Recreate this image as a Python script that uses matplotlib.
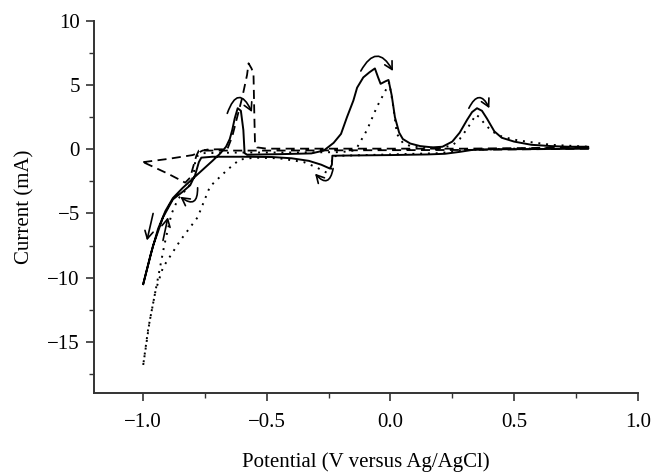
import matplotlib
matplotlib.use("Agg")
import matplotlib.pyplot as plt
from matplotlib.ticker import MultipleLocator

# solid trace: anodic sweep (-1.0 -> 0.8) then cathodic sweep back
solid_x = [-1.00, -0.97, -0.94, -0.91, -0.88, -0.84, -0.80, -0.76, -0.72, -0.69,
           -0.665, -0.65, -0.64, -0.63, -0.618, -0.605, -0.595, -0.59, -0.58,
           -0.45, -0.32, -0.27, -0.23, -0.20, -0.176, -0.15, -0.135, -0.11, -0.085,
           -0.063, -0.05, -0.04, -0.02, -0.008, 0.005, 0.018, 0.035, 0.05, 0.08,
           0.12, 0.17, 0.21, 0.25, 0.28, 0.31, 0.33, 0.35, 0.37, 0.39, 0.42, 0.45,
           0.50, 0.57, 0.65, 0.72, 0.80,
           0.80, 0.60, 0.40, 0.33, 0.28, 0.22, 0.15, 0.00, -0.15, -0.235, -0.237,
           -0.245, -0.28, -0.33, -0.40, -0.48, -0.60, -0.72, -0.765, -0.775,
           -0.79, -0.81, -0.84, -0.88, -0.92, -0.96, -1.00]
solid_y = [-10.5, -8.2, -6.2, -4.8, -3.8, -3.0, -2.3, -1.6, -0.9, -0.35,
           0.2, 0.8, 1.5, 2.4, 3.2, 3.0, 1.5, -0.3, -0.42,
           -0.38, -0.32, -0.1, 0.5, 1.2, 2.5, 3.8, 4.8, 5.6, 6.0,
           6.3, 5.6, 5.1, 5.3, 5.4, 4.2, 2.5, 1.3, 0.8, 0.45,
           0.25, 0.15, 0.2, 0.6, 1.3, 2.3, 2.9, 3.2, 3.0, 2.4, 1.4, 0.9,
           0.6, 0.35, 0.25, 0.2, 0.2,
           0.05, 0.02, 0.0, -0.05, -0.2, -0.35, -0.4, -0.45, -0.48, -0.5, -1.2,
           -1.5, -1.2, -0.9, -0.7, -0.6, -0.58, -0.58, -0.65, -1.0,
           -2.0, -2.8, -3.3, -3.9, -5.3, -7.5, -10.5]

# dotted trace
dotted_x = [-1.00, -0.99, -0.975, -0.96, -0.945, -0.93, -0.915, -0.90, -0.885,
            -0.86, -0.83, -0.805, -0.795, -0.79, -0.78, -0.76, -0.60, -0.40,
            -0.20, -0.15, -0.135, -0.095, -0.055, -0.014, -0.005, 0.01, 0.026,
            0.05, 0.08, 0.12, 0.20, 0.25, 0.28, 0.31, 0.33, 0.345, 0.36, 0.38,
            0.41, 0.45, 0.50, 0.55, 0.65, 0.80,
            0.80, 0.50, 0.30, 0.20, 0.00, -0.20, -0.235, -0.24, -0.255, -0.30,
            -0.35, -0.45, -0.55, -0.61, -0.66, -0.73, -0.78, -0.85, -0.92,
            -0.95, -0.98, -1.00]
dotted_y = [-16.8, -15.5, -13.5, -12.0, -10.5, -9.0, -7.5, -6.2, -5.0,
            -3.9, -3.2, -2.6, -1.8, -1.0, -0.5, -0.3, -0.25, -0.25,
            -0.22, -0.1, 0.15, 1.5, 3.3, 4.8, 5.2, 3.5, 1.2,
            0.5, 0.25, 0.15, 0.1, 0.3, 0.8, 1.6, 2.2, 2.7, 2.5, 2.0,
            1.4, 1.0, 0.75, 0.6, 0.35, 0.2,
            0.1, 0.05, -0.05, -0.3, -0.4, -0.5, -0.55, -1.5, -1.85, -1.4,
            -1.0, -0.7, -0.65, -0.8, -1.6, -2.9, -5.3, -7.1, -9.2,
            -11.0, -14.0, -16.8]

# dashed trace
dashed_x = [-1.00, -0.90, -0.80, -0.775, -0.76, -0.74, -0.70, -0.66, -0.64,
            -0.62, -0.60, -0.58, -0.574, -0.562, -0.554, -0.551, -0.548, -0.54,
            -0.50, 0.00, 0.30, 0.80,
            0.80, 0.30, -0.50, -0.775, -0.785, -0.80, -0.81, -0.83, -0.90, -1.00]
dashed_y = [-1.0, -0.75, -0.45, -0.25, -0.1, -0.02, 0.0, 0.0, 1.0,
            2.5, 4.0, 5.8, 6.7, 6.3, 5.9, 3.0, 0.5, 0.15,
            0.05, 0.05, 0.05, 0.15,
            0.05, -0.05, -0.1, -0.1, -0.5, -1.5, -2.2, -2.6, -1.9, -1.0]

# sweep-direction arrows: (start, end, curvature)
arrows = [
    ((-0.66, 2.8), (-0.56, 2.9), -1.2),
    ((-0.12, 6.1), (0.01, 6.1), -0.9),
    ((0.317, 3.2), (0.40, 3.2), -1.0),
    ((-0.232, -1.5), (-0.305, -1.9), -1.0),
    ((-0.78, -3.0), (-0.85, -3.7), -1.0),
    ((-0.96, -5.0), (-0.985, -7.1), 0.0),
    ((-0.92, -7.1), (-0.90, -5.3), 0.0),
]

plt.rcParams['font.family'] = ['Liberation Serif', 'DejaVu Serif']

fig = plt.figure(figsize=(6.65, 4.76), dpi=100)
ax = fig.add_axes([0.141, 0.174, 0.818, 0.782])

ax.plot(solid_x, solid_y, color='black', lw=1.4, solid_joinstyle='round')
ax.plot(dotted_x, dotted_y, color='black', lw=1.4, linestyle=(0, (1, 3)))
ax.plot(dashed_x, dashed_y, color='black', lw=1.3, linestyle=(0, (5, 3)))

for start, end, rad in arrows:
    ax.annotate('', xy=end, xytext=start,
                arrowprops=dict(arrowstyle='->,head_length=0.55,head_width=0.3',
                                connectionstyle=f'arc3,rad={rad}',
                                color='black', lw=1.2, shrinkA=0, shrinkB=0))

ax.set_xlim(-1.2, 1.0)
ax.set_ylim(-19, 10)
ax.xaxis.set_major_locator(MultipleLocator(0.5))
ax.xaxis.set_minor_locator(MultipleLocator(0.25))
ax.yaxis.set_major_locator(MultipleLocator(5))
ax.yaxis.set_minor_locator(MultipleLocator(2.5))
ax.set_xticks([-1.0, -0.5, 0.0, 0.5, 1.0])
ax.set_xticklabels(['\u22121.0', '\u22120.5', '0.0', '0.5', '1.0'])

for side in ['top', 'right']:
    ax.spines[side].set_visible(False)
for side in ['left', 'bottom']:
    ax.spines[side].set_linewidth(1.4)
    ax.spines[side].set_color('#333333')

ax.tick_params(which='major', direction='out', length=6, width=1.2,
               color='#333333', labelsize=15)
ax.tick_params(axis='y', which='major', pad=4)
ax.tick_params(axis='x', which='major', pad=8)
ax.tick_params(which='minor', direction='out', length=3.5, width=1.0,
               color='#333333')

ax.set_xlabel('Potential (V versus Ag/AgCl)', fontsize=15, labelpad=15)
ax.set_ylabel('Current (mA)', fontsize=15, labelpad=9)

fig.savefig('out.png', dpi=100)
